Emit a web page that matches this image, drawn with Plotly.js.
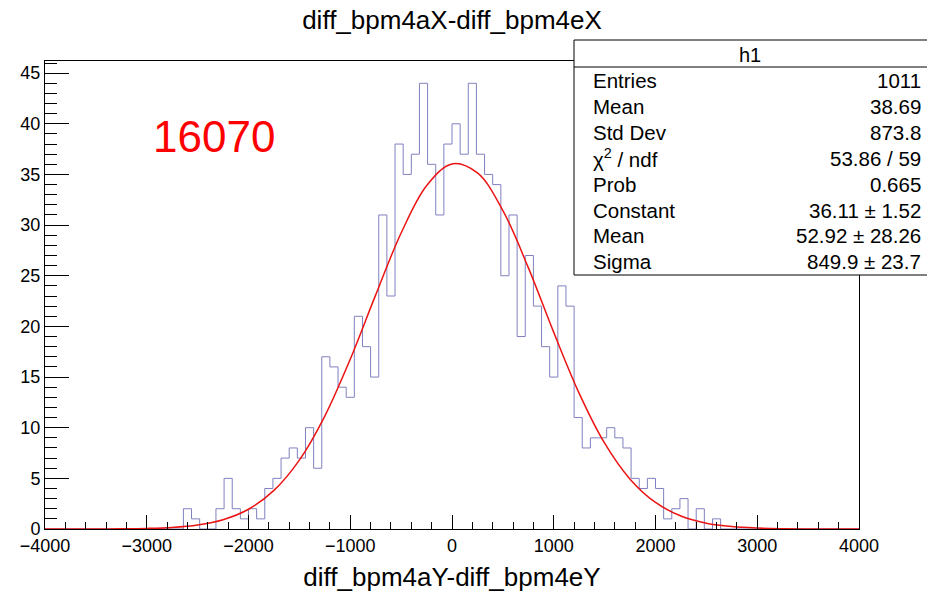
<!DOCTYPE html>
<html>
<head>
<meta charset="utf-8">
<script src="https://cdn.plot.ly/plotly-3.0.1.min.js"></script>
<style>html,body{margin:0;padding:0;background:#fff;}#chart{width:927px;height:593px;}</style>
</head>
<body>
<div id="chart"></div>
<script>
// ---- data ----
const histTitle = "diff_bpm4aX-diff_bpm4eX";
const xTitle = "diff_bpm4aY-diff_bpm4eY";
const runLabel = "16070";
const binLow = -4000;
const binWidth = 80;
const counts = [
  0,0,0,0,0,0,0,0,0,0,0,0,0,0,0,0,0,
  2,1,0,0,2,5,2,1,2,1,4,5,7,8,7,10,6,
  17,16,14,13,21,18,15,31,23,38,35,37,44,36,31,38,40,37,44,37,35,34,
  25,31,19,27,22,18,15,24,22,11,8,9,9,10,9,8,5,4,5,4,1,2,3,0,2,0,1,
  0,0,0,0,0,0,0,0,0,0,0,0,0,0,0,0,0
];
// fitted gaussian curve
const fitX = [-4000,-3750,-3500,-3250,-3000,-2750,-2500,-2250,-2000,-1750,-1500,-1250,-1000,-750,-500,-250,0,
              250,500,750,1000,1250,1500,1750,2000,2250,2500,2750,3000,3250,3500,3750,4000];
const fitY = [0.0004,0.0016,0.006,0.019,0.057,0.157,0.40,0.92,1.95,3.81,6.80,11.15,16.76,23.11,29.22,33.89,36.04,
              35.15,31.44,25.80,19.41,13.39,8.47,4.92,2.62,1.28,0.57,0.235,0.088,0.031,0.0097,0.0028,0.0007];
const statsName = "h1";
const statsLabels = ["Entries","Mean","Std Dev","\u03c7<sup>2</sup> / ndf","Prob","Constant","Mean","Sigma"];
const statsValues = ["1011","38.69","873.8","53.86 / 59","0.665","36.11 \u00b1 1.52","52.92 \u00b1 28.26","849.9 \u00b1 23.7"];

// ---- build step outline ----
const edges = [];
const stepY = [];
for (let i = 0; i < counts.length; i++) { edges.push(binLow + i*binWidth); stepY.push(counts[i]); }
edges.push(binLow + counts.length*binWidth); stepY.push(counts[counts.length-1]);

// pixel helpers (layout only)
const W = 927, H = 593;
const mL = 45, mR = 68, mT = 61, mB = 64;
const pw = W - mL - mR, ph = H - mT - mB;
const px = p => (p - mL) / pw;
const py = p => (H - mB - p) / ph;

const FONT = "Liberation Sans, Arial, Helvetica, sans-serif";

const traces = [
  {x: edges, y: stepY, type: 'scatter', mode: 'lines', line: {shape: 'hv', color: 'rgb(128,128,192)', width: 1}, hoverinfo: 'skip'},
  {x: fitX, y: fitY, type: 'scatter', mode: 'lines', line: {shape: 'spline', smoothing: 1, color: 'rgb(235,20,20)', width: 1.5}, hoverinfo: 'skip'}
];

const annotations = [];
annotations.push({xref:'paper', yref:'paper', x: px(214), y: py(136), text: runLabel, showarrow:false,
  font:{family:FONT, size:44, color:'#ff0000'}, xanchor:'center', yanchor:'middle'});
annotations.push({xref:'paper', yref:'paper', x: px(750), y: py(55), text: statsName, showarrow:false,
  font:{family:FONT, size:20, color:'#000'}, xanchor:'center', yanchor:'middle'});
for (let i = 0; i < statsLabels.length; i++) {
  const yy = py(81 + i*25.8);
  annotations.push({xref:'paper', yref:'paper', x: px(591), y: yy, text: statsLabels[i], showarrow:false,
    font:{family:FONT, size:20.5, color:'#000'}, xanchor:'left', yanchor:'middle'});
  annotations.push({xref:'paper', yref:'paper', x: px(923), y: yy, text: statsValues[i], showarrow:false,
    font:{family:FONT, size:20.5, color:'#000'}, xanchor:'right', yanchor:'middle'});
}

const shapes = [
  {type:'rect', xref:'paper', yref:'paper', x0: px(574), x1: px(940), y0: py(275), y1: py(40),
   line:{color:'#000', width:1}, fillcolor:'#fff', layer:'above'},
  {type:'line', xref:'paper', yref:'paper', x0: px(574), x1: px(940), y0: py(67), y1: py(67),
   line:{color:'#000', width:1}, layer:'above'}
];

const layout = {
  width: W, height: H,
  margin: {l: mL, r: mR, t: mT, b: mB, pad: 0},
  paper_bgcolor: '#fff', plot_bgcolor: '#fff',
  showlegend: false,
  font: {family: FONT, color: '#000'},
  title: {text: histTitle, x: 0.5, xref: 'paper', xanchor: 'center', y: 1 - 20/H, yref: 'container', yanchor: 'middle',
          font: {family: FONT, size: 26, color: '#000'}},
  xaxis: {
    range: [-4000, 4000], tick0: -4000, dtick: 1000, ticks: 'inside', ticklen: 14, tickwidth: 1, tickcolor: '#000',
    showline: true, linecolor: '#000', linewidth: 1, mirror: true, showgrid: false, zeroline: false,
    tickfont: {family: FONT, size: 18, color: '#000'},
    minor: {dtick: 200, ticks: 'inside', ticklen: 7, tickcolor: '#000', showgrid: false},
    title: {text: xTitle, font: {family: FONT, size: 26, color: '#000'}, standoff: 13}
  },
  yaxis: {
    range: [0, 46.2], tick0: 0, dtick: 5, ticks: 'inside', ticklen: 24, tickwidth: 1, tickcolor: '#000',
    showline: true, linecolor: '#000', linewidth: 1, mirror: true, showgrid: false, zeroline: false,
    tickfont: {family: FONT, size: 18, color: '#000'},
    minor: {dtick: 1, ticks: 'inside', ticklen: 12, tickcolor: '#000', showgrid: false}
  },
  annotations: annotations,
  shapes: shapes
};

Plotly.newPlot('chart', traces, layout, {displayModeBar: false, staticPlot: true});
</script>
</body>
</html>
